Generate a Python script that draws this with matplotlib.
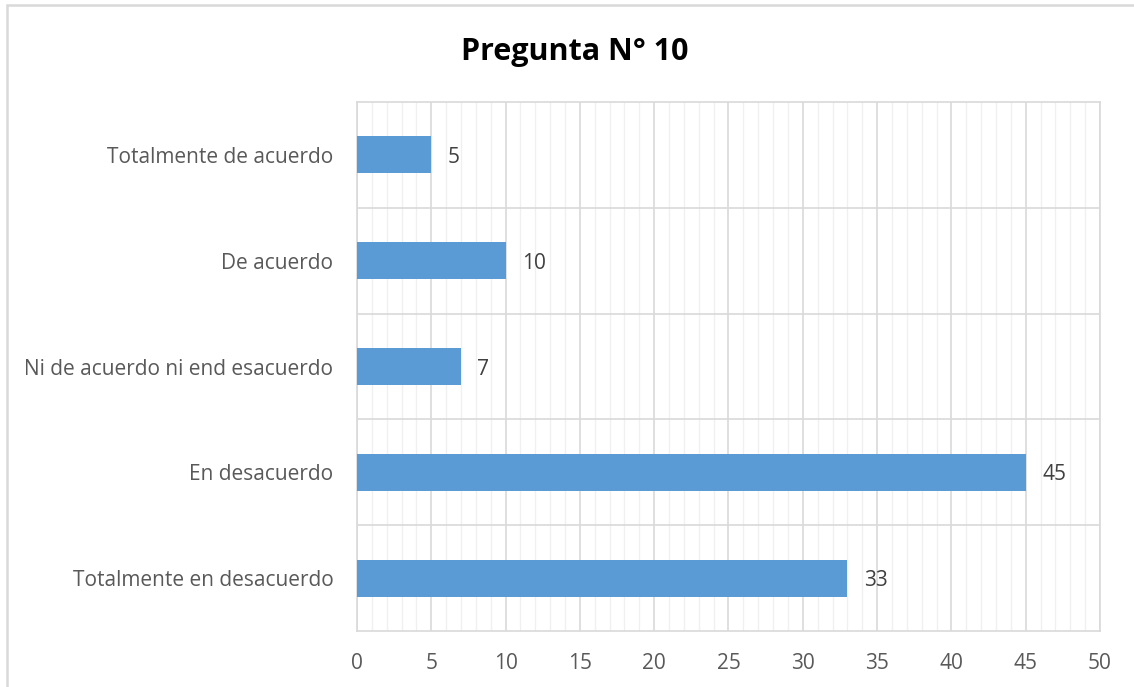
import matplotlib
matplotlib.use("Agg")
import matplotlib.pyplot as plt
from matplotlib.patches import Rectangle
from matplotlib.ticker import MultipleLocator

categorias = ["Totalmente en desacuerdo", "En desacuerdo",
              "Ni de acuerdo ni end esacuerdo", "De acuerdo",
              "Totalmente de acuerdo"]
valores = [33, 45, 7, 10, 5]

plt.rcParams['font.family'] = ['Open Sans', 'DejaVu Sans']

fig = plt.figure(figsize=(11.34, 6.87), dpi=100)
ax = fig.add_axes([0.3148, 0.0815, 0.6552, 0.770])

# marco del area del grafico
fig.patches.append(Rectangle((7 / 1134, -0.05), 1.2, 1 - 4.5 / 687 + 0.05,
                             transform=fig.transFigure, fill=False,
                             edgecolor='#d9d9d9', linewidth=1.8))

y = list(range(len(categorias)))
barras = ax.barh(y, valores, height=0.35, color='#5b9bd5', zorder=3)
for b, v in zip(barras, valores):
    ax.text(b.get_width() + 1.1, b.get_y() + b.get_height() / 2, str(v),
            va='center_baseline', ha='left', fontsize=15, color='#404040',
            zorder=4)

ax.set_xlim(0, 50)
ax.set_ylim(-0.5, len(categorias) - 0.5)
ax.xaxis.set_major_locator(MultipleLocator(5))
ax.xaxis.set_minor_locator(MultipleLocator(1))
ax.set_yticks(y)
ax.set_yticklabels(categorias)
ax.set_yticks([i - 0.5 for i in range(1, len(categorias))], minor=True)

ax.grid(which='major', axis='x', color='#d9d9d9', linewidth=1.2, zorder=1)
ax.grid(which='minor', axis='x', color='#f0f0f0', linewidth=1.0, zorder=0)
ax.grid(which='minor', axis='y', color='#d9d9d9', linewidth=1.2, zorder=1)
ax.tick_params(axis='both', which='both', length=0, labelsize=15,
               labelcolor='#595959')
ax.tick_params(axis='x', pad=16)
ax.tick_params(axis='y', pad=17)
for s in ax.spines.values():
    s.set_color('#d9d9d9')
    s.set_linewidth(1.2)

fig.text(575 / 1134, 1 - 52 / 687, "Pregunta N° 10", ha='center', va='center',
         fontsize=22, fontweight='bold', color='#000000')

fig.savefig("out.png", dpi=100, facecolor='white')
